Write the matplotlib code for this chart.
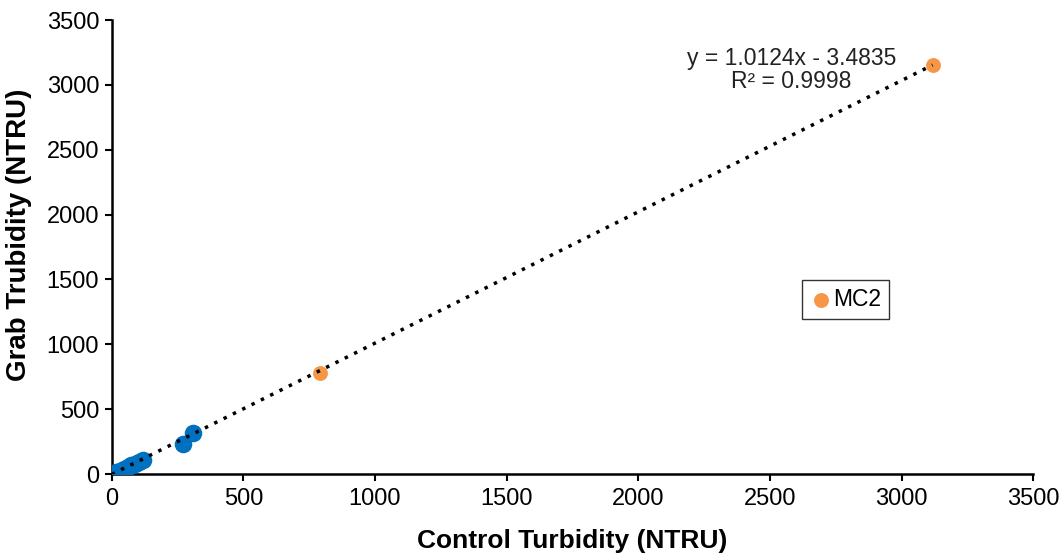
import matplotlib
matplotlib.use("Agg")
import matplotlib.pyplot as plt
import numpy as np

plt.rcParams['font.family'] = ['Liberation Sans', 'DejaVu Sans']

# Data
other_x = [5, 15, 30, 45, 60, 75, 90, 105, 120, 270, 308]
other_y = [5, 12, 25, 40, 55, 68, 80, 92, 105, 235, 316]
mc2_x = [790, 3118]
mc2_y = [775, 3150]
slope = 1.0124
intercept = -3.4835
r2 = 0.9998
x_ticks = [0, 500, 1000, 1500, 2000, 2500, 3000, 3500]
y_ticks = [0, 500, 1000, 1500, 2000, 2500, 3000, 3500]

fig = plt.figure(figsize=(10.64, 5.57), dpi=100)
ax = fig.add_axes([0.105, 0.149, 0.866, 0.815])

ax.scatter(other_x, other_y, s=160, color='#0070C0', zorder=3, linewidths=0)
ax.scatter(mc2_x, mc2_y, s=115, color='#F79646', zorder=3, linewidths=0, label='MC2')

all_x = np.array(other_x + mc2_x)
xl = np.linspace(0, all_x.max(), 200)
ax.plot(xl, slope * xl + intercept, linestyle=(0, (1, 2.0)), color='black', linewidth=2.5, zorder=4)

ax.text(2582, 3115, f"y = {slope:.4f}x - {abs(intercept):.4f}\nR² = {r2:.4f}",
        ha='center', va='center', fontsize=16.5, color='#222222', linespacing=1.0)

ax.set_xlim(0, 3500)
ax.set_ylim(0, 3500)
ax.set_xticks(x_ticks)
ax.set_yticks(y_ticks)
ax.tick_params(axis='both', labelsize=17, length=5, width=1.5, direction='out', color='black')
ax.tick_params(axis='x', pad=5)
ax.tick_params(axis='y', pad=4)
for sp in ['top', 'right']:
    ax.spines[sp].set_visible(False)
for sp in ['left', 'bottom']:
    ax.spines[sp].set_linewidth(1.8)
    ax.spines[sp].set_color('black')

ax.set_xlabel('Control Turbidity (NTRU)', fontsize=19, fontweight='bold', labelpad=14)
ax.set_ylabel('Grab Trubidity (NTRU)', fontsize=20, fontweight='bold')
ax.yaxis.set_label_coords(-0.0865, 0.526)

leg = ax.legend(loc='center', bbox_to_anchor=(0.796, 0.385), frameon=True, fancybox=False,
                edgecolor='black', fontsize=16.5, handletextpad=0.0, borderpad=0.35,
                handlelength=1.0, markerscale=1.0)
leg.get_frame().set_linewidth(1.0)

fig.savefig('out.png', dpi=100)
